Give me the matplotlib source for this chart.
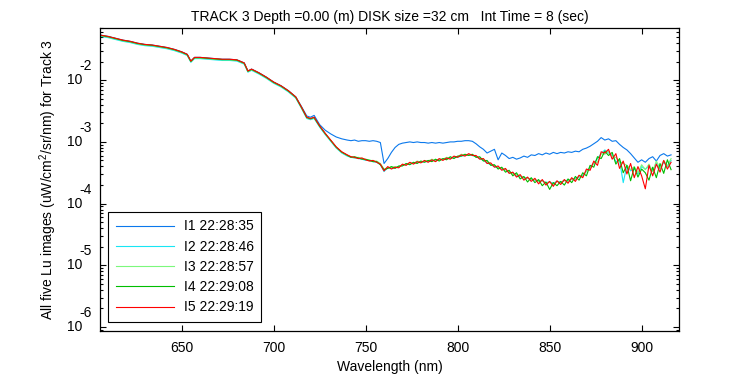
import numpy as np
import matplotlib
matplotlib.use("Agg")
import matplotlib.pyplot as plt
from matplotlib.ticker import LogLocator, FixedLocator, NullFormatter

plt.rcParams.update({"font.family": ["Liberation Sans", "DejaVu Sans"],
                     "font.size": 10, "mathtext.fontset": "custom",
                     "mathtext.rm": "Liberation Sans"})

# wavelength grid (nm): coarse over the smooth blue/red part, 2 nm over the noisy NIR
WL_SMOOTH = [606, 610, 614, 618, 622, 626, 630, 634, 638, 642, 646, 650, 653, 655,
             657, 660, 664, 668, 672, 676, 680, 684, 686, 688, 692, 696, 700, 704,
             708, 712, 715, 718, 720, 722, 725, 728, 731, 734, 737, 740]
WL_NOISY = list(range(742, 917, 2))
wavelength = WL_SMOOTH + WL_NOISY

# log10 Lu (uW/cm^2/sr/nm)
I1_SMOOTH = [-1.27, -1.29, -1.32, -1.35, -1.37, -1.40, -1.42, -1.43, -1.45, -1.47,
             -1.50, -1.54, -1.58, -1.69, -1.63, -1.63, -1.64, -1.65, -1.66, -1.66,
             -1.67, -1.72, -1.85, -1.82, -1.88, -1.95, -2.03, -2.09, -2.17, -2.27,
             -2.42, -2.58, -2.60, -2.57, -2.72, -2.81, -2.87, -2.92, -2.95, -2.97]
I1_NOISY = [-2.98, -2.97, -2.99, -2.98, -2.98, -2.99, -2.98, -2.99, -3.01, -3.35,
            -3.27, -3.17, -3.09, -3.04, -3.02, -3.01, -3.00, -3.01, -3.00, -3.01,
            -3.01, -3.02, -3.01, -3.02, -3.01, -3.02, -3.01, -3.00, -3.00, -2.99,
            -2.99, -2.98, -2.98, -2.99, -3.03, -3.08, -3.12, -3.18, -3.15, -3.12,
            -3.29, -3.18, -3.22, -3.27, -3.25, -3.28, -3.26, -3.23, -3.25, -3.21,
            -3.22, -3.19, -3.21, -3.18, -3.20, -3.17, -3.19, -3.17, -3.18, -3.16,
            -3.17, -3.15, -3.16, -3.12, -3.10, -3.07, -3.03, -2.99, -2.93, -2.97,
            -2.95, -2.99, -2.98, -3.04, -3.09, -3.13, -3.19, -3.26, -3.33, -3.29,
            -3.33, -3.27, -3.24, -3.31, -3.22, -3.19, -3.23, -3.21]

I2_SMOOTH = [-1.29, -1.31, -1.34, -1.37, -1.39, -1.42, -1.44, -1.45, -1.47, -1.49,
             -1.52, -1.56, -1.60, -1.71, -1.65, -1.65, -1.66, -1.67, -1.68, -1.68,
             -1.69, -1.74, -1.87, -1.84, -1.90, -1.97, -2.05, -2.11, -2.19, -2.29,
             -2.45, -2.62, -2.64, -2.62, -2.76, -2.88, -2.99, -3.10, -3.18, -3.23]
I2_NOISY = [-3.25, -3.26, -3.27, -3.28, -3.30, -3.30, -3.32, -3.33, -3.37, -3.48,
            -3.42, -3.43, -3.42, -3.40, -3.38, -3.36, -3.36, -3.34, -3.33, -3.33,
            -3.32, -3.32, -3.30, -3.30, -3.29, -3.28, -3.27, -3.26, -3.25, -3.25,
            -3.23, -3.22, -3.21, -3.22, -3.24, -3.27, -3.30, -3.34, -3.37, -3.40,
            -3.42, -3.44, -3.45, -3.50, -3.50, -3.55, -3.56, -3.58, -3.59, -3.60,
            -3.62, -3.63, -3.63, -3.66, -3.65, -3.67, -3.64, -3.65, -3.63, -3.62,
            -3.61, -3.59, -3.57, -3.54, -3.48, -3.41, -3.35, -3.27, -3.19, -3.13,
            -3.18, -3.21, -3.32, -3.30, -3.66, -3.38, -3.47, -3.43, -3.52, -3.40,
            -3.44, -3.40, -3.47, -3.35, -3.44, -3.33, -3.40, -3.30]

I3_SMOOTH = [-1.28, -1.30, -1.33, -1.36, -1.38, -1.41, -1.43, -1.44, -1.46, -1.48,
             -1.51, -1.55, -1.59, -1.70, -1.64, -1.64, -1.65, -1.66, -1.67, -1.67,
             -1.68, -1.73, -1.86, -1.83, -1.89, -1.96, -2.04, -2.10, -2.18, -2.28,
             -2.44, -2.61, -2.63, -2.61, -2.75, -2.87, -2.98, -3.09, -3.17, -3.22]
I3_NOISY = [-3.24, -3.26, -3.25, -3.27, -3.29, -3.29, -3.31, -3.31, -3.35, -3.44,
            -3.42, -3.41, -3.40, -3.41, -3.37, -3.37, -3.34, -3.35, -3.31, -3.33,
            -3.31, -3.31, -3.28, -3.31, -3.28, -3.28, -3.25, -3.27, -3.24, -3.24,
            -3.20, -3.22, -3.21, -3.21, -3.24, -3.26, -3.28, -3.32, -3.36, -3.38,
            -3.42, -3.43, -3.45, -3.48, -3.52, -3.53, -3.55, -3.58, -3.59, -3.61,
            -3.61, -3.64, -3.63, -3.67, -3.65, -3.69, -3.64, -3.66, -3.62, -3.64,
            -3.60, -3.61, -3.55, -3.56, -3.47, -3.43, -3.34, -3.33, -3.19, -3.20,
            -3.15, -3.24, -3.25, -3.32, -3.35, -3.38, -3.45, -3.40, -3.50, -3.37,
            -3.45, -3.36, -3.48, -3.31, -3.43, -3.30, -3.39, -3.27]

I4_SMOOTH = [-1.275, -1.295, -1.325, -1.355, -1.375, -1.405, -1.425, -1.435, -1.455,
             -1.475, -1.505, -1.545, -1.585, -1.695, -1.635, -1.635, -1.645, -1.655,
             -1.665, -1.665, -1.675, -1.725, -1.855, -1.825, -1.885, -1.955, -2.035,
             -2.095, -2.175, -2.275, -2.435, -2.605, -2.625, -2.605, -2.745, -2.865,
             -2.975, -3.085, -3.165, -3.215]
I4_NOISY = [-3.25, -3.24, -3.26, -3.28, -3.28, -3.30, -3.32, -3.32, -3.37, -3.45,
            -3.43, -3.40, -3.43, -3.39, -3.39, -3.35, -3.37, -3.33, -3.35, -3.31,
            -3.33, -3.30, -3.32, -3.28, -3.31, -3.27, -3.29, -3.24, -3.27, -3.23,
            -3.23, -3.20, -3.22, -3.20, -3.25, -3.24, -3.31, -3.30, -3.38, -3.37,
            -3.44, -3.41, -3.49, -3.46, -3.55, -3.50, -3.60, -3.56, -3.65, -3.58,
            -3.66, -3.61, -3.71, -3.65, -3.77, -3.66, -3.71, -3.64, -3.70, -3.60,
            -3.66, -3.56, -3.62, -3.50, -3.55, -3.38, -3.41, -3.24, -3.27, -3.15,
            -3.22, -3.17, -3.36, -3.27, -3.50, -3.38, -3.63, -3.41, -3.57, -3.44,
            -3.50, -3.62, -3.41, -3.58, -3.35, -3.51, -3.29, -3.45]

I5_SMOOTH = [-1.27, -1.29, -1.32, -1.35, -1.37, -1.40, -1.42, -1.43, -1.45, -1.47,
             -1.50, -1.54, -1.58, -1.69, -1.63, -1.63, -1.64, -1.65, -1.66, -1.66,
             -1.67, -1.72, -1.85, -1.82, -1.88, -1.95, -2.03, -2.09, -2.17, -2.27,
             -2.43, -2.60, -2.62, -2.60, -2.74, -2.86, -2.97, -3.08, -3.16, -3.21]
I5_NOISY = [-3.24, -3.25, -3.27, -3.26, -3.29, -3.31, -3.30, -3.33, -3.36, -3.47,
            -3.40, -3.44, -3.41, -3.42, -3.36, -3.38, -3.33, -3.36, -3.32, -3.34,
            -3.30, -3.33, -3.29, -3.32, -3.27, -3.30, -3.26, -3.28, -3.23, -3.25,
            -3.21, -3.23, -3.19, -3.22, -3.22, -3.28, -3.27, -3.35, -3.34, -3.41,
            -3.39, -3.46, -3.43, -3.51, -3.49, -3.57, -3.53, -3.62, -3.57, -3.64,
            -3.59, -3.68, -3.61, -3.70, -3.64, -3.72, -3.63, -3.69, -3.61, -3.67,
            -3.58, -3.64, -3.54, -3.58, -3.44, -3.46, -3.31, -3.38, -3.16, -3.18,
            -3.12, -3.28, -3.19, -3.43, -3.31, -3.52, -3.35, -3.58, -3.40, -3.55,
            -3.76, -3.38, -3.55, -3.36, -3.49, -3.30, -3.44, -3.33]

LABELS = ["I1 22:28:35", "I2 22:28:46", "I3 22:28:57", "I4 22:29:08", "I5 22:29:19"]
COLORS = ["#0a78ec", "#18e6f4", "#7cf87c", "#00be00", "#ff0000"]
SERIES = [I1_SMOOTH + I1_NOISY, I2_SMOOTH + I2_NOISY, I3_SMOOTH + I3_NOISY,
          I4_SMOOTH + I4_NOISY, I5_SMOOTH + I5_NOISY]

XTICKS = [650, 700, 750, 800, 850, 900]
YEXP = [-6, -5, -4, -3, -2]

fig = plt.figure(figsize=(7.5, 3.75), dpi=100)
ax = fig.add_axes([0.1333, 0.1173, 0.772, 0.808])

for logv, lab, col in zip(SERIES, LABELS, COLORS):
    ax.plot(wavelength, 10 ** np.array(logv), color=col, lw=0.8, label=lab)

ax.set_yscale("log")
ax.set_xlim(605.6, 920.3)
ax.set_ylim(10 ** -6.065, 10 ** -1.154)
ax.xaxis.set_major_locator(FixedLocator(XTICKS))
ax.yaxis.set_major_locator(FixedLocator([10.0 ** e for e in YEXP]))
ax.yaxis.set_minor_locator(LogLocator(base=10, subs=np.arange(2, 10)))
ax.yaxis.set_major_formatter(NullFormatter())
ax.yaxis.set_minor_formatter(NullFormatter())
ax.tick_params(which="both", direction="in", top=True, right=True,
               colors="black", labelsize=10, width=0.8)
ax.tick_params(which="major", length=4.5)
ax.tick_params(which="minor", length=2.5)
ax.tick_params(axis="x", pad=7)
for s in ax.spines.values():
    s.set_linewidth(0.9)

# MATLAB-style "10" with a raised, full-size exponent
ytrans = ax.get_yaxis_transform()
for e in YEXP:
    ax.annotate("10", xy=(0, 10.0 ** e), xycoords=ytrans, xytext=(-13, 0),
                textcoords="offset points", ha="right", va="center", fontsize=10)
    ax.annotate(str(e), xy=(0, 10.0 ** e), xycoords=ytrans, xytext=(-6, 10),
                textcoords="offset points", ha="right", va="center", fontsize=10)

ax.set_xlabel("Wavelength (nm)", fontsize=10, labelpad=4)
ax.set_ylabel("All five Lu images (uW/cm$^2$/sr/nm) for Track 3", fontsize=10,
              labelpad=26)
ax.set_title("TRACK 3 Depth =0.00 (m) DISK size =32 cm   Int Time = 8 (sec)",
             fontsize=10, pad=5)

leg = ax.legend(loc="lower left", bbox_to_anchor=(0.0138, 0.0297),
                borderaxespad=0, fancybox=False, edgecolor="black",
                framealpha=1, fontsize=10, handlelength=4.2, labelspacing=0.45,
                borderpad=0.55, handletextpad=0.7)
leg.get_frame().set_linewidth(0.8)

fig.savefig("out.png", dpi=100, facecolor="white")
